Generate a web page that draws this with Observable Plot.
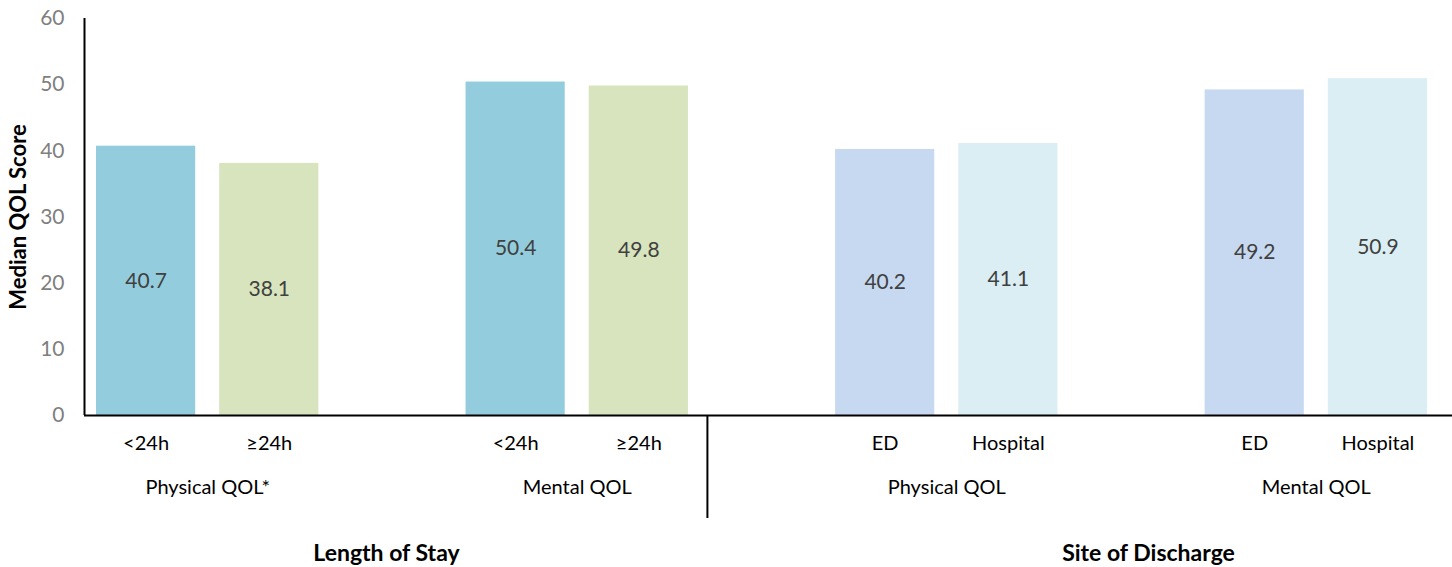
<!DOCTYPE html>
<html>
<head>
<meta charset="utf-8">
<script src="https://cdn.jsdelivr.net/npm/d3@7"></script>
<script src="https://cdn.jsdelivr.net/npm/@observablehq/plot@0.6"></script>
<style>
  body { margin: 0; background: #fff; }
  #chart svg { overflow: visible; }
</style>
</head>
<body>
<div id="chart"></div>
<script>
// ---- data ----
const categories = ["<24h", "≥24h", "<24h", "≥24h", "ED", "Hospital", "ED", "Hospital"];
const measures = ["Physical QOL*", "Physical QOL*", "Mental QOL", "Mental QOL",
                  "Physical QOL", "Physical QOL", "Mental QOL", "Mental QOL"];
const groups = ["Length of Stay", "Length of Stay", "Length of Stay", "Length of Stay",
                "Site of Discharge", "Site of Discharge", "Site of Discharge", "Site of Discharge"];
const values = [40.7, 38.1, 50.4, 49.8, 40.2, 41.1, 49.2, 50.9];
const yTicks = [0, 10, 20, 30, 40, 50, 60];
const seriesKeys = ["<24h", "≥24h", "ED", "Hospital"];

// each pair of bars is followed by one empty category slot (Excel-style spacing)
const data = values.map((v, i) => ({
  slot: i + Math.floor(i / 2),
  category: categories[i],
  measure: measures[i],
  group: groups[i],
  value: v
}));
const pairs = data.filter((d, i) => i % 2 === 0);
const nSlots = d3.max(data, d => d.slot) + 1;
const groupSpans = d3.rollups(data, v => [d3.min(v, d => d.slot), d3.max(v, d => d.slot) + 1], d => d.group)
  .map(([group, [a, b]]) => ({group, mid: (a + b) / 2}));

const font = "Lato, 'Open Sans', sans-serif";

const chart = Plot.plot({
  width: 1452,
  height: 567,
  marginLeft: 84,
  marginRight: 13,
  marginTop: 18,
  marginBottom: 152,
  style: { fontFamily: font, background: "#fff" },
  x: { domain: [0, nSlots], axis: null },
  y: { domain: [0, 60], axis: null },
  color: { domain: seriesKeys, range: ["#93cddd", "#d7e4bd", "#c6d9f0", "#dbeef3"] },
  marks: [
    Plot.rectY(data, {
      x1: d => d.slot, x2: d => d.slot + 1, y: "value",
      fill: "category", insetLeft: 12, insetRight: 12
    }),
    Plot.text(data, {
      x: d => d.slot + 0.5, y: d => d.value / 2,
      text: d => d.value.toFixed(1),
      fill: "#404040", fontSize: 21
    }),
    Plot.axisY({
      ticks: yTicks, tickSize: 0, tickPadding: 20, fontSize: 21,
      color: "#7f7f7f", label: null
    }),
    Plot.text(["Median QOL Score"], {
      frameAnchor: "left", textAnchor: "middle", rotate: -90, dx: -66,
      fontSize: 22, fontWeight: "bold", fill: "#000"
    }),
    Plot.ruleX([0], { stroke: "#000", strokeWidth: 2 }),
    Plot.ruleY([0], { stroke: "#000", strokeWidth: 2, insetRight: -13 }),
    Plot.ruleX([nSlots / 2 - 0.5], {
      y1: 0, y2: 0, insetBottom: -103, dx: 7, stroke: "#000", strokeWidth: 2
    }),
    Plot.text(data, {
      x: d => d.slot + 0.5, y: 0, dy: 28,
      text: "category", fill: "#000", fontSize: 20
    }),
    Plot.text(pairs, {
      x: d => d.slot + 1, y: 0, dy: 72,
      text: "measure", fill: "#000", fontSize: 20
    }),
    Plot.text(groupSpans.slice(0, 1), {
      x: "mid", y: 0, dy: 138, dx: -6,
      text: "group", fill: "#000", fontSize: 23, fontWeight: "bold"
    }),
    Plot.text(groupSpans.slice(1), {
      x: "mid", y: 0, dy: 138, dx: 17,
      text: "group", fill: "#000", fontSize: 23, fontWeight: "bold"
    })
  ]
});
document.getElementById("chart").append(chart);
</script>
</body>
</html>
